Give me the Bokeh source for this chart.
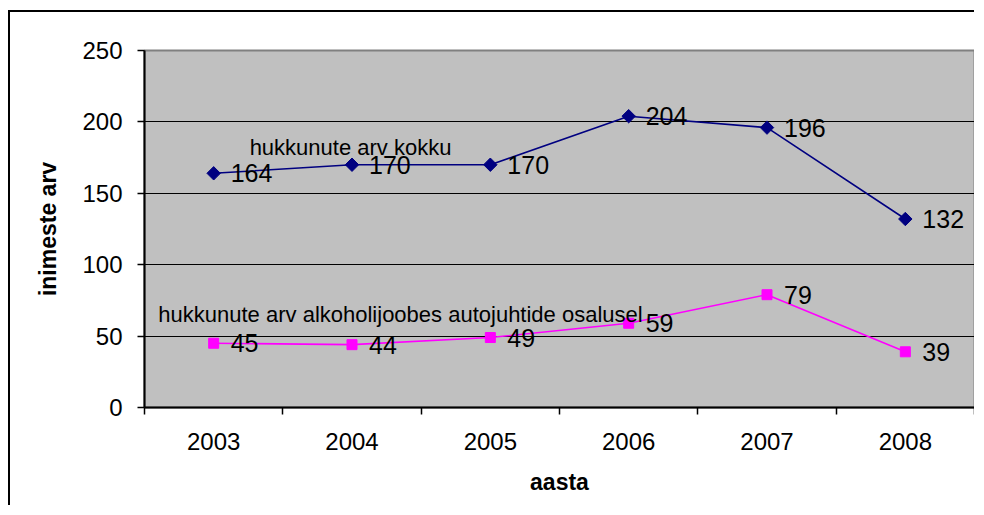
import math
from bokeh.plotting import figure
from bokeh.models import Range1d, FixedTicker, Label
from bokeh.core.properties import value
from bokeh.embed import file_html
from bokeh.resources import INLINE

years = ["2003", "2004", "2005", "2006", "2007", "2008"]
total = [164, 170, 170, 204, 196, 132]
alcohol = [45, 44, 49, 59, 79, 39]
y_ticks = [0, 50, 100, 150, 200, 250]
name_total = "hukkunute arv kokku"
name_alcohol = "hukkunute arv alkoholijoobes autojuhtide osalusel"

FONT = "Liberation Sans"
xs = [i + 0.5 for i in range(len(years))]

p = figure(width=966, height=495, output_backend="svg", toolbar_location=None,
           x_range=Range1d(0, len(years)), y_range=Range1d(0, 250),
           min_border_left=134, min_border_top=38, min_border_right=2, min_border_bottom=100)
p.styles = {"border-top": "2px solid black", "border-left": "2px solid black",
            "margin-left": "8px", "margin-top": "10px"}

p.background_fill_color = "#C0C0C0"
p.border_fill_color = "white"
p.outline_line_color = "#808080"
p.outline_line_width = 2

# y axis
p.yaxis.ticker = FixedTicker(ticks=y_ticks)
p.yaxis.axis_line_color = "black"
p.yaxis.axis_line_width = 2
p.yaxis.major_tick_out = 7
p.yaxis.major_tick_in = 0
p.yaxis.major_tick_line_width = 1.5
p.yaxis.minor_tick_line_color = None
p.yaxis.major_label_standoff = 15
p.yaxis.major_label_text_font = FONT
p.yaxis.major_label_text_font_size = "24px"
p.yaxis.major_label_text_color = "black"
p.yaxis.axis_label = "inimeste arv"
p.yaxis.axis_label_text_font = FONT
p.yaxis.axis_label_text_font_size = "23px"
p.yaxis.axis_label_text_font_style = "bold"
p.yaxis.axis_label_text_color = "black"
p.yaxis.axis_label_standoff = 18

# x axis
p.xaxis.ticker = FixedTicker(ticks=xs, minor_ticks=list(range(len(years) + 1)))
p.xaxis.major_label_overrides = {x: y for x, y in zip(xs, years)}
p.xaxis.axis_line_color = "black"
p.xaxis.axis_line_width = 2
p.xaxis.major_tick_line_color = None
p.xaxis.major_tick_out = 0
p.xaxis.major_tick_in = 0
p.xaxis.minor_tick_out = 7
p.xaxis.minor_tick_in = 0
p.xaxis.minor_tick_line_color = "black"
p.xaxis.minor_tick_line_width = 1.5
p.xaxis.major_label_standoff = 18
p.xaxis.major_label_text_font = FONT
p.xaxis.major_label_text_font_size = "24px"
p.xaxis.major_label_text_color = "black"
p.xaxis.axis_label = "aasta"
p.xaxis.axis_label_text_font = FONT
p.xaxis.axis_label_text_font_size = "23px"
p.xaxis.axis_label_text_font_style = "bold"
p.xaxis.axis_label_text_color = "black"
p.xaxis.axis_label_standoff = 16

# grid
p.xgrid.grid_line_color = None
p.ygrid.ticker = FixedTicker(ticks=y_ticks[1:-1])
p.ygrid.grid_line_color = "black"
p.ygrid.grid_line_width = 1.2

# series
p.line(xs, total, line_color="#000080", line_width=1.6)
p.scatter(xs, total, marker="square", size=9.5, angle=math.pi / 4,
          fill_color="#000080", line_color="#000080")
p.line(xs, alcohol, line_color="#FF00FF", line_width=1.6)
p.scatter(xs, alcohol, marker="square", size=10, fill_color="#FF00FF", line_color="#FF00FF")

p.text(xs, total, text=[str(v) for v in total], x_offset=17, text_baseline="middle",
       text_align="left", text_font=value(FONT), text_font_size="25px", text_color="black")
p.text(xs, alcohol, text=[str(v) for v in alcohol], x_offset=17, text_baseline="middle",
       text_align="left", text_font=value(FONT), text_font_size="25px", text_color="black")

p.add_layout(Label(x=0.76, y=182, text=name_total, text_font=FONT, text_font_size="22px",
                   text_color="black", text_baseline="alphabetic"))
p.add_layout(Label(x=0.1, y=65, text=name_alcohol, text_font=FONT, text_font_size="22px",
                   text_color="black", text_baseline="alphabetic"))

open("out.html", "w").write(file_html(p, INLINE))
